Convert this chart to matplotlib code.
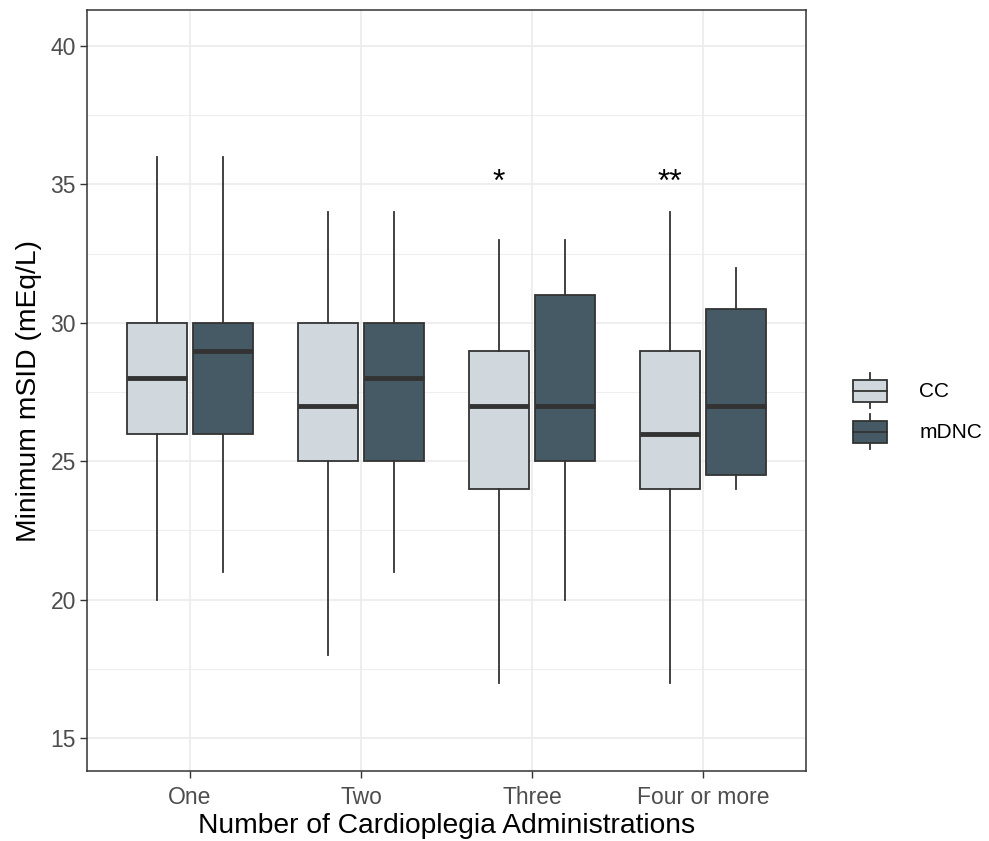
import numpy as np
import matplotlib
matplotlib.use("Agg")
from matplotlib import pyplot as plt
from matplotlib.legend_handler import HandlerBase
import matplotlib.patches as mpatches
import matplotlib.lines as mlines

plt.rcParams['font.family'] = ['Liberation Sans', 'DejaVu Sans']

categories = ["One", "Two", "Three", "Four or more"]
groups = ["CC", "mDNC"]
colors = {"CC": "#D0D8DE", "mDNC": "#465A66"}

# (whislo, q1, median, q3, whishi) per category
cc_stats = [(20, 26, 28, 30, 36),
            (18, 25, 27, 30, 34),
            (17, 24, 27, 29, 33),
            (17, 24, 26, 29, 34)]
mdnc_stats = [(21, 26, 29, 30, 36),
              (21, 25, 28, 30, 34),
              (20, 25, 27, 31, 33),
              (24, 24.5, 27, 30.5, 32)]

signif = ["", "", "*", "**"]
signif_y = 35.05

edge = "#333333"

fig = plt.figure(figsize=(9.89, 8.41), dpi=100)
ax = fig.add_axes([0.088, 0.0832, 0.727, 0.9048])

def to_bxp(stats):
    out = []
    for lo, q1, med, q3, hi in stats:
        out.append(dict(whislo=lo, q1=q1, med=med, q3=q3, whishi=hi, fliers=[]))
    return out

x = np.arange(1, len(categories) + 1)
offset = 0.193
width = 0.35
for grp, stats, off in [("CC", cc_stats, -offset), ("mDNC", mdnc_stats, offset)]:
    ax.bxp(to_bxp(stats), positions=x + off, widths=width, patch_artist=True,
           showcaps=False, showfliers=False,
           boxprops=dict(facecolor=colors[grp], edgecolor=edge, linewidth=1.3),
           whiskerprops=dict(color=edge, linewidth=1.3),
           medianprops=dict(color=edge, linewidth=3.5, solid_capstyle='butt'),
           zorder=3)

for xi, s in zip(x - offset, signif):
    if s:
        ax.text(xi, signif_y, s, ha='center', va='center', fontsize=23, color='black')

ax.set_xlim(0.4, 4.6)
ax.set_ylim(13.81, 41.3)
ax.set_xticks(x)
ax.set_xticklabels(categories)
ax.set_yticks([15, 20, 25, 30, 35, 40])
ax.set_yticks(np.arange(17.5, 41, 5), minor=True)
ax.grid(True, which='major', color='#EBEBEB', linewidth=1.2, zorder=0)
ax.grid(True, which='minor', axis='y', color='#EBEBEB', linewidth=0.6, zorder=0)
ax.set_axisbelow(True)
ax.tick_params(axis='both', which='major', labelsize=16.5, labelcolor='#4D4D4D',
               color=edge, length=5, width=1)
ax.tick_params(axis='x', which='major', pad=5.5)
ax.tick_params(axis='y', which='major', pad=3)
ax.tick_params(axis='y', which='minor', length=0)
for sp in ax.spines.values():
    sp.set_color(edge)
    sp.set_linewidth(1.1)

ax.set_xlabel("Number of Cardioplegia Administrations", fontsize=20.3, labelpad=3)
ax.set_ylabel("Minimum mSID (mEq/L)", fontsize=20.3, labelpad=6)


class BoxHandler(HandlerBase):
    def create_artists(self, legend, orig_handle, xdescent, ydescent,
                       width, height, fontsize, trans):
        fc = orig_handle.get_facecolor()
        bh = height * 0.64
        y0 = -ydescent + (height - bh) / 2
        rect = mpatches.Rectangle((-xdescent, y0), width, bh, facecolor=fc,
                                  edgecolor=edge, linewidth=1.3, transform=trans)
        xm = -xdescent + width / 2
        med = mlines.Line2D([-xdescent, -xdescent + width], [y0 + bh / 2] * 2,
                            color=edge, linewidth=1.3, transform=trans)
        w1 = mlines.Line2D([xm, xm], [-ydescent, y0], color=edge, linewidth=1.3,
                           transform=trans)
        w2 = mlines.Line2D([xm, xm], [y0 + bh, -ydescent + height], color=edge,
                           linewidth=1.3, transform=trans)
        return [w1, w2, rect, med]


handles = [mpatches.Rectangle((0, 0), 1, 1, facecolor=colors[g]) for g in groups]
fig.legend(handles, groups, handler_map={mpatches.Rectangle: BoxHandler()},
           loc='center left', bbox_to_anchor=(0.8625, 0.511), frameon=False,
           fontsize=15, handlelength=1.63, handleheight=2.2,
           labelspacing=0.3, handletextpad=1.55, borderpad=0, borderaxespad=0)

fig.savefig("out.png", dpi=100)
